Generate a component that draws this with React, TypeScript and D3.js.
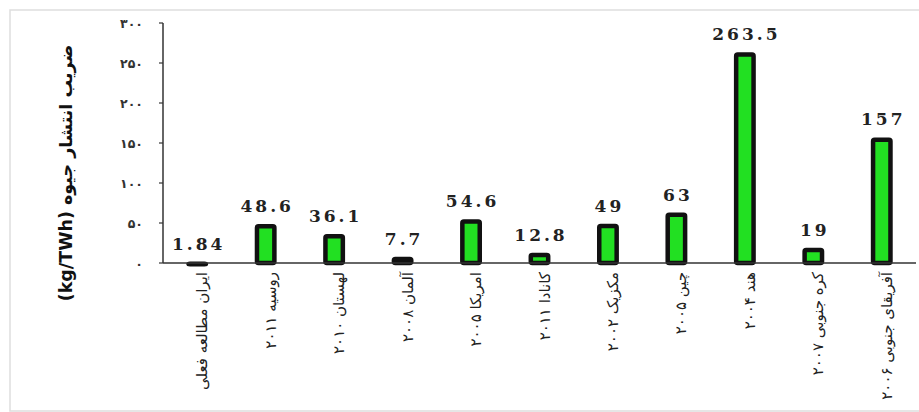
import React from "react";
import * as d3 from "d3";

// Mercury emission factor by study (kg/TWh)
const categories = [
  "ایران مطالعه فعلی",
  "روسیه ۲۰۱۱",
  "لهستان ۲۰۱۰",
  "آلمان ۲۰۰۸",
  "امریکا ۲۰۰۵",
  "کانادا ۲۰۱۱",
  "مکزیک ۲۰۰۲",
  "چین ۲۰۰۵",
  "هند ۲۰۰۴",
  "کره جنوبی ۲۰۰۷",
  "آفریقای جنوبی ۲۰۰۶",
];
const values = [1.84, 48.6, 36.1, 7.7, 54.6, 12.8, 49, 63, 263.5, 19, 157];
const yTicks = [0, 50, 100, 150, 200, 250, 300];
const yTitle = "ضریب انتشار جیوه (kg/TWh)";

const W = 919;
const H = 412;
const left = 163;
const right = 916;
const top = 23;
const bottom = 263;

const persianDigits = "۰۱۲۳۴۵۶۷۸۹";
const toPersian = (n: number) =>
  String(n).replace(/[0-9]/g, (d) => persianDigits[+d]);

export default function App() {
  const x = d3
    .scaleBand<string>()
    .domain(categories)
    .range([left, right])
    .paddingInner(0.68)
    .paddingOuter(0.34);
  const y = d3.scaleLinear().domain([0, 300]).range([bottom, top]);
  const sw = 4.5;
  const bw = x.bandwidth();

  return (
    <svg
      width={W}
      height={H}
      style={{ position: "absolute", left: 0, top: 0, background: "#fff" }}
    >
      <rect x={10} y={10} width={930} height={401} fill="none" stroke="#dedede" strokeWidth={1.5} />

      {/* y axis */}
      <line x1={left} x2={left} y1={top} y2={bottom} stroke="#333" strokeWidth={1.5} />
      {yTicks.map((t) => (
        <g key={t}>
          <line x1={left - 4} x2={left} y1={y(t)} y2={y(t)} stroke="#333" strokeWidth={1.2} />
          <text
            x={left - 20}
            y={y(t)}
            textAnchor="end"
            dominantBaseline="central"
            fontFamily="DejaVu Sans"
            fontWeight="bold"
            fontSize={12.5}
            letterSpacing={1}
            fill="#333"
          >
            {toPersian(t)}
          </text>
        </g>
      ))}
      <text
        transform={`translate(66,${(top + bottom) / 2 + 30}) rotate(-90)`}
        textAnchor="middle"
        direction="rtl"
        dominantBaseline="central"
        fontFamily="DejaVu Sans"
        fontWeight="bold"
        fontSize={17.5}
        fill="#111"
      >
        {yTitle}
      </text>

      {/* bars */}
      {categories.map((c, i) => {
        const x0 = x(c)!;
        const yv = y(values[i]);
        return (
          <g key={c}>
            <rect
              x={x0 + sw / 2}
              y={yv + sw / 2}
              width={bw - sw}
              height={Math.max(0.5, bottom - yv - sw / 2)}
              fill="#22e022"
              stroke="#111"
              strokeWidth={sw}
              rx={1.5}
            />
            <text
              x={x0 + bw / 2 + 1.5}
              y={yv - 12}
              textAnchor="middle"
              fontFamily="DejaVu Serif"
              fontWeight="bold"
              fontSize={17}
              letterSpacing={3}
              fill="#222"
            >
              {String(values[i])}
            </text>
            <text
              transform={`translate(${x0 + bw / 2 + 5},272) rotate(-90)`}
              textAnchor="start"
              direction="rtl"
              dominantBaseline="central"
              fontFamily="DejaVu Sans"
              fontSize={15}
              fill="#222"
            >
              {c}
            </text>
          </g>
        );
      })}

      {/* x axis */}
      <line x1={left} x2={right} y1={bottom} y2={bottom} stroke="#333" strokeWidth={1.5} />
    </svg>
  );
}
